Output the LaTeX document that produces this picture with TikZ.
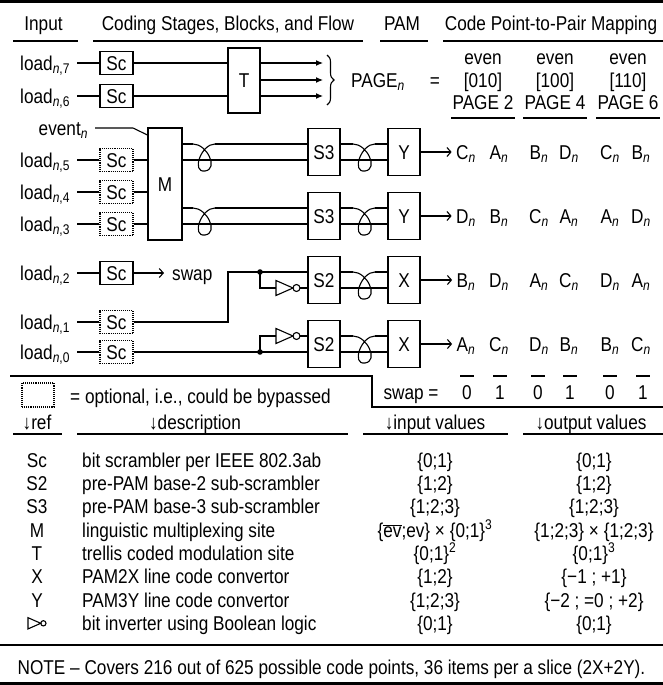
\documentclass[tikz,border=0pt]{standalone}
\usepackage{fontspec}
\setmainfont[FakeStretch=0.86]{Liberation Sans}
\usetikzlibrary{arrows.meta,decorations.pathreplacing}

\newcommand{\ld}[1]{load\textsubscript{\textit{n},#1}}
\newcommand{\sbn}[1]{#1\textsubscript{\textit{n}}}

\tikzset{
  every node/.style={font=\fontsize{20}{22}\selectfont, text height=14.3pt, text depth=0pt},
  blk/.style={draw, line width=1.1pt, inner sep=0pt, minimum width=32pt, minimum height=47pt},
  scbox/.style={draw, line width=1.1pt, inner sep=0pt, minimum width=33pt, minimum height=23pt},
  optbox/.style={scbox, densely dotted},
  lbl/.style={anchor=east, inner xsep=3.5pt, outer sep=3.5pt},
  wire/.style={line width=1.1pt},
  tarr/.style={wire, -{Latex[length=7pt,width=6pt]}},
  oarr/.style={wire, -{Straight Barb[length=4pt,width=9pt]}},
  rule/.style={line width=1.2pt},
  twist/.pic={\draw[wire] (0,0) .. controls (14,0) and (26,25) .. (12,27) .. controls (-2,29) and (8,0) .. (22,0);},
  notgate/.pic={
    \draw[wire] (0,-7.5) -- (17,0) -- (0,7.5) -- cycle;
    \draw[wire] (20.5,0) circle (3.5pt);
    \coordinate (-in) at (0,0);
    \coordinate (-out) at (24,0);
  },
}

\begin{document}
\begin{tikzpicture}[x=1pt, y=-1pt]
  \useasboundingbox (0,0) rectangle (663,685);

  % headings
  \draw[line width=3pt] (0,1.5) -- (663,1.5);
  \node (hin) at (43.5,23) {Input};
  \node (hcod) at (228,23) {Coding Stages, Blocks, and Flow};
  \node (hpam) at (402,23) {PAM};
  \node (hmap) at (551,23) {Code Point-to-Pair Mapping};
  \draw[rule] (13,41) -- (78,41);
  \draw[rule] (93,41) -- (363,41);
  \draw[rule] (380,41) -- (428,41);
  \draw[rule] (443,41) -- (663,41);

  % inputs and scramblers
  \foreach \k/\y/\s in {7/63/scbox, 6/96/scbox, 5/160/optbox, 4/192/optbox, 3/224/optbox, 2/273/scbox, 1/322/optbox, 0/352/optbox} {
    \node[lbl] (l\k) at (77,\y) {\ld{\k}};
    \node[\s] (sc\k) at (116.5,\y) {Sc};
    \draw[wire] (l\k) -- (sc\k);
  }
  \node[lbl] (evn) at (95,128) {\sbn{event}};

  % trellis
  \node[blk, minimum height=65pt] (T) at (244,80.5) {T};
  \draw[wire] (sc7) -- (sc7 -| T.west);
  \draw[wire] (sc6) -- (sc6 -| T.west);
  \coordinate (pg) at (323,80);
  \draw[tarr] (T.east |- sc7) -- (pg |- sc7);
  \draw[tarr] (T.east |- pg) -- (pg);
  \draw[tarr] (T.east |- sc6) -- (pg |- sc6);
  \draw[wire, decorate, decoration={brace, amplitude=7pt}] (327,55) -- (327,105);
  \node (page) at (378,80) {\sbn{PAGE}};
  \node (eq) at (435,80) {=};
  \foreach \x/\b/\p [count=\k] in {483/010/2, 555/100/4, 628/110/6} {
    \node (even\k) at (\x,57) {even};
    \node (bits\k) at (\x,80) {[\b]};
    \node (pg\k) at (\x,102) {PAGE \p};
    \draw[rule] ({\x-32},118) -- ({\x+32},118);
  }

  % multiplexer
  \node[blk, minimum width=34pt, minimum height=112pt] (M) at (165,184) {M};
  \coordinate (evk) at (133,128);
  \draw[wire] (evn) -- (evk) -- (M.west |- 0,135);
  \foreach \k in {5,4,3} \draw[wire] (sc\k) -- (sc\k -| M.west);

  % sub-scramblers and PAM
  \node[blk] (S3a) at (324,152) {S3};
  \node[blk] (S3b) at (324,216) {S3};
  \node[blk] (S2a) at (324,280) {S2};
  \node[blk] (S2b) at (324,344) {S2};
  \node[blk] (Ya) at (404,152) {Y};
  \node[blk] (Yb) at (404,216) {Y};
  \node[blk] (Xa) at (404,280) {X};
  \node[blk] (Xb) at (404,344) {X};
  \foreach \y in {144,208} {
    \draw[wire] (M.east |- 0,\y) -- (193,\y) pic{twist} (215,\y) -- (S3a.west |- 0,\y);
    \draw[wire] (M.east |- 0,\y+16) -- (S3a.west |- 0,\y+16);
  }
  \foreach \y in {144,208,272,336} {
    \draw[wire] (S3a.east |- 0,\y) -- (353,\y) pic{twist} (375,\y) -- (Ya.west |- 0,\y);
    \draw[wire] (S3a.east |- 0,\y+16) -- (Ya.west |- 0,\y+16);
  }

  % swap and inverters
  \node[anchor=west, inner xsep=0pt] (swap) at (172,273) {swap};
  \draw[oarr, shorten >=8pt] (sc2) -- (swap);
  \coordinate (j1) at (228,272);
  \draw[wire] (sc1) -| (j1) -- (j1 -| S2a.west);
  \coordinate (da) at (260,272);
  \coordinate (db) at (260,352);
  \fill (da) circle (2.8pt);
  \fill (db) circle (2.8pt);
  \pic (inva) at (276,288) {notgate};
  \pic (invb) at (276,336) {notgate};
  \draw[wire] (da) |- (inva-in);
  \draw[wire] (inva-out) -- (inva-out -| S2a.west);
  \draw[wire] (sc0) -- (sc0 -| S2b.west);
  \draw[wire] (db) |- (invb-in);
  \draw[wire] (invb-out) -- (invb-out -| S2b.west);

  % code point pairs
  \foreach \x/\t [count=\k] in {466/C,499/A,539/B,569/D,610/C,641/B}
    \node (ra\k) at (\x,152) {\sbn{\t}};
  \foreach \x/\t [count=\k] in {466/D,499/B,539/C,569/A,610/A,641/D}
    \node (rb\k) at (\x,216) {\sbn{\t}};
  \foreach \x/\t [count=\k] in {466/B,499/D,539/A,569/C,610/D,641/A}
    \node (rc\k) at (\x,280) {\sbn{\t}};
  \foreach \x/\t [count=\k] in {466/A,499/C,539/D,569/B,610/B,641/C}
    \node (rd\k) at (\x,344) {\sbn{\t}};
  \draw[oarr, shorten >=1pt] (Ya) -- (ra1);
  \draw[oarr, shorten >=1pt] (Yb) -- (rb1);
  \draw[oarr, shorten >=1pt] (Xa) -- (rc1);
  \draw[oarr, shorten >=1pt] (Xb) -- (rd1);

  % legend
  \draw[rule] (10,376) -- (372,376) -- (372,407) -- (663,407);
  \node[optbox, minimum width=32pt, minimum height=24pt] (optkey) at (38,395) {};
  \node[anchor=west, inner xsep=0pt] (opttxt) at (70,396) {= optional, i.e., could be bypassed};
  \node (swapeq) at (411,392) {swap =};
  \foreach \x/\v [count=\k] in {467/0,500/1,538/0,570/1,610/0,643/1} {
    \node (sw\k) at (\x,392) {\v};
    \draw[rule] ({\x-7},376) -- ({\x+7},376);
  }

  % table
  \node (href) at (37,422) {↓ref};
  \node (hdesc) at (195,422) {↓description};
  \node (hinv) at (435,422) {↓input values};
  \node (houtv) at (591,422) {↓output values};
  \draw[rule] (13,434) -- (62,434);
  \draw[rule] (77,434) -- (348,434);
  \draw[rule] (363,434) -- (508,434);
  \draw[rule] (523,434) -- (663,434);
  \foreach \r/\d/\vi/\vo [count=\k] in {
      Sc/bit scrambler per IEEE 802.3ab/\{0;1\}/\{0;1\},
      S2/pre-PAM base-2 sub-scrambler/\{1;2\}/\{1;2\},
      S3/pre-PAM base-3 sub-scrambler/\{1;2;3\}/\{1;2;3\},
      M/linguistic multiplexing site/\{$\overline{\mbox{ev}}$;ev\} × \{0;1\}\textsuperscript{3}/\{1;2;3\} × \{1;2;3\},
      T/trellis coded modulation site/\{0;1\}\textsuperscript{2}/\{0;1\}\textsuperscript{3},
      X/PAM2X line code convertor/\{1;2\}/\{−1 ; +1\},
      Y/PAM3Y line code convertor/\{1;2;3\}/\{−2 ; =0 ; +2\},
      /bit inverter using Boolean logic/\{0;1\}/\{0;1\}} {
    \node (ref\k) at (37,{436.7+23.33*\k}) {\r};
    \node[anchor=west, inner xsep=0pt] (desc\k) at (82,{436.7+23.33*\k}) {\d};
    \node (inv\k) at (435,{436.7+23.33*\k}) {\vi};
    \node (outv\k) at (594,{436.7+23.33*\k}) {\vo};
  }
  \pic[scale=0.75] (keyinv) at (28,623.3) {notgate};

  % note
  \draw[rule] (0,645) -- (663,645);
  \node (note) at (331.5,667) {NOTE – Covers 216 out of 625 possible code points, 36 items per a slice (2X+2Y).};
  \draw[line width=2.2pt] (0,683.5) -- (663,683.5);
\end{tikzpicture}
\end{document}
